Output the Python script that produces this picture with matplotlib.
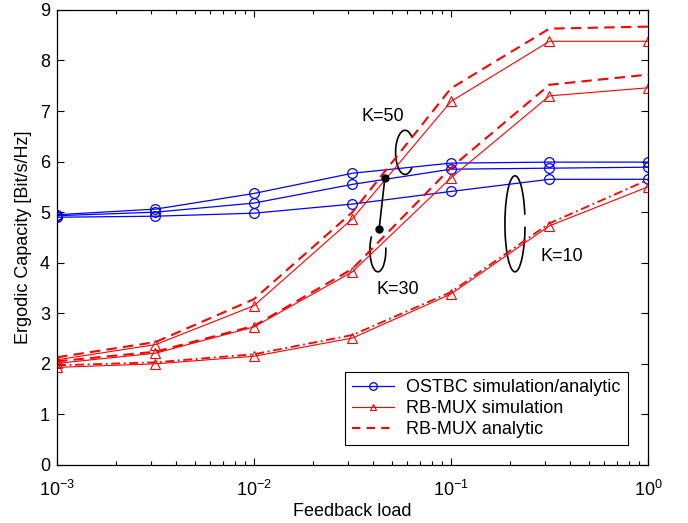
import matplotlib
matplotlib.use('Agg')
import matplotlib.pyplot as plt
from matplotlib.patches import Arc
from matplotlib.lines import Line2D

plt.rcParams['font.family'] = ['Liberation Sans', 'DejaVu Sans']
plt.rcParams['mathtext.default'] = 'regular'

# feedback load values
load = [0.001, 0.00316, 0.01, 0.0316, 0.1, 0.316, 1.0]

# OSTBC simulation/analytic, K = 50, 30, 10
ostbc_k50 = [4.95, 5.06, 5.37, 5.77, 5.97, 5.99, 5.99]
ostbc_k30 = [4.93, 5.00, 5.18, 5.55, 5.85, 5.87, 5.89]
ostbc_k10 = [4.90, 4.92, 4.98, 5.16, 5.41, 5.65, 5.65]

# RB-MUX simulation
rb_sim_k50 = [2.08, 2.38, 3.15, 4.87, 7.19, 8.38, 8.38]
rb_sim_k30 = [2.01, 2.21, 2.73, 3.82, 5.68, 7.30, 7.46]
rb_sim_k10 = [1.93, 2.00, 2.15, 2.51, 3.38, 4.73, 5.50]

# RB-MUX analytic
rb_ana_k50 = [2.13, 2.43, 3.28, 5.00, 7.45, 8.63, 8.67]
rb_ana_k30 = [2.05, 2.24, 2.75, 3.88, 5.88, 7.52, 7.72]
rb_ana_k10 = [1.97, 2.03, 2.19, 2.57, 3.42, 4.78, 5.64]

# black pointer dots (K=50 and K=30 crossing marks)
dot_x = [0.0462, 0.0432]
dot_y = [5.68, 4.67]

fig = plt.figure(figsize=(6.88, 5.23), dpi=100)
ax = fig.add_axes([0.0828, 0.111, 0.859, 0.870])

mk = dict(marker='o', markersize=7, markerfacecolor='none', markeredgewidth=0.9)
for y in (ostbc_k50, ostbc_k30, ostbc_k10):
    ax.plot(load, y, color='blue', linewidth=0.9, **mk)

tri = dict(marker='^', markersize=6.5, markerfacecolor='none', markeredgewidth=0.8)
for y in (rb_sim_k50, rb_sim_k30, rb_sim_k10):
    ax.plot(load, y, color='red', linewidth=0.8, **tri)

ax.plot(load, rb_ana_k50, color='red', linewidth=1.5, linestyle=(0, (5, 3)))
ax.plot(load, rb_ana_k30, color='red', linewidth=1.5, linestyle=(0, (5, 3)))
ax.plot(load, rb_ana_k10, color='red', linewidth=1.3, linestyle=(0, (5, 2, 1, 2)))

# annotations
ax.plot(dot_x, dot_y, color='black', linewidth=1.2, marker='o', markersize=5)
tr = ax.transAxes
ax.add_patch(Arc((0.589, 0.687), 0.032, 0.097, theta1=70, theta2=290,
                 transform=tr, color='black', linewidth=1.2))
ax.add_patch(Arc((0.543, 0.473), 0.027, 0.097, theta1=110, theta2=20,
                 transform=tr, color='black', linewidth=1.2))
ax.add_patch(Arc((0.775, 0.530), 0.034, 0.211, theta1=50, theta2=340,
                 transform=tr, color='black', linewidth=1.2))
ax.text(0.552, 0.765, 'K=50', transform=tr, ha='center', va='center', fontsize=13)
ax.text(0.577, 0.385, 'K=30', transform=tr, ha='center', va='center', fontsize=13)
ax.text(0.854, 0.459, 'K=10', transform=tr, ha='center', va='center', fontsize=13)

ax.set_xscale('log')
ax.set_xlim(1e-3, 1)
ax.set_ylim(0, 9)
ax.set_yticks(range(10))
ax.tick_params(which='both', direction='in', top=True, right=True, labelsize=13)
ax.tick_params(which='major', length=5, width=0.8)
ax.tick_params(which='minor', length=3, width=0.8)
ax.tick_params(axis='x', which='major', pad=11)
ax.tick_params(axis='y', which='major', pad=5)
ax.set_xlabel('Feedback load', fontsize=13, labelpad=2)
ax.set_ylabel('Ergodic Capacity [Bit/s/Hz]', fontsize=13, labelpad=6)
for s in ax.spines.values():
    s.set_linewidth(0.9)

handles = [
    Line2D([], [], color='blue', linewidth=0.9, marker='o', markersize=5.5,
           markerfacecolor='none', markeredgewidth=0.9),
    Line2D([], [], color='red', linewidth=0.8, marker='^', markersize=5,
           markerfacecolor='none', markeredgewidth=0.8),
    Line2D([], [], color='red', linewidth=1.5, linestyle=(0, (4, 3))),
]
leg = ax.legend(handles, ['OSTBC simulation/analytic', 'RB-MUX simulation', 'RB-MUX analytic'],
                loc='lower right', bbox_to_anchor=(0.972, 0.035), fontsize=13,
                fancybox=False, framealpha=1, edgecolor='black',
                handlelength=2.3, borderpad=0.4, labelspacing=0.22, handletextpad=0.7,
                borderaxespad=0.2)
leg.get_frame().set_linewidth(0.8)

fig.savefig('out.png', dpi=100)
